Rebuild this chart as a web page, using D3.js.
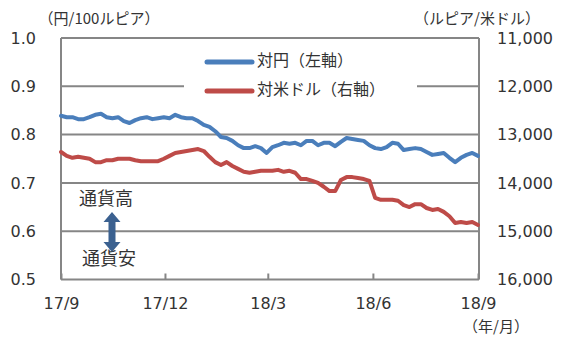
<!DOCTYPE html>
<html><head><meta charset="utf-8">
<script src="https://cdn.jsdelivr.net/npm/d3@7"></script>
<style>
html,body{margin:0;padding:0;background:#fff;}
svg{display:block;}
text{font-family:"DejaVu Sans",sans-serif;fill:#333;}
.jp{font-family:"Noto Sans CJK JP","Noto Sans",sans-serif;}
</style></head>
<body>
<svg id="chart" width="568" height="342"></svg>
<script>
const dates = ["2017-09-01","2017-09-06","2017-09-11","2017-09-16","2017-09-21","2017-09-26","2017-10-01","2017-10-06","2017-10-11","2017-10-16",
"2017-10-21","2017-10-26","2017-10-31","2017-11-05","2017-11-10","2017-11-15","2017-11-20","2017-11-25","2017-11-30","2017-12-05",
"2017-12-10","2017-12-15","2017-12-20","2017-12-25","2017-12-30","2018-01-04","2018-01-09","2018-01-14","2018-01-19","2018-01-24",
"2018-01-29","2018-02-03","2018-02-08","2018-02-13","2018-02-18","2018-02-23","2018-02-28","2018-03-05","2018-03-10","2018-03-15",
"2018-03-20","2018-03-25","2018-03-30","2018-04-04","2018-04-09","2018-04-14","2018-04-19","2018-04-24","2018-04-29","2018-05-04",
"2018-05-09","2018-05-14","2018-05-19","2018-05-24","2018-05-29","2018-06-03","2018-06-08","2018-06-13","2018-06-18","2018-06-23",
"2018-06-28","2018-07-03","2018-07-08","2018-07-13","2018-07-18","2018-07-23","2018-07-28","2018-08-02","2018-08-07","2018-08-12",
"2018-08-17","2018-08-22","2018-08-27","2018-09-01"];

const yenValues = [0.839,0.836,0.836,0.832,0.832,0.836,0.841,0.843,0.836,0.834,
0.836,0.828,0.824,0.830,0.834,0.836,0.832,0.834,0.836,0.834,
0.841,0.836,0.834,0.834,0.828,0.820,0.816,0.807,0.795,0.793,
0.787,0.778,0.772,0.772,0.776,0.772,0.762,0.774,0.778,0.783,
0.781,0.783,0.778,0.787,0.787,0.778,0.783,0.783,0.776,0.785,
0.793,0.791,0.789,0.787,0.778,0.772,0.770,0.774,0.783,0.781,
0.768,0.770,0.772,0.770,0.764,0.758,0.760,0.762,0.752,0.743,
0.752,0.758,0.762,0.756];

const usdValues = [13360,13440,13480,13460,13480,13500,13570,13570,13530,13530,
13500,13500,13500,13530,13550,13550,13550,13550,13500,13440,
13380,13360,13340,13320,13300,13340,13460,13570,13630,13570,
13650,13710,13770,13790,13770,13750,13750,13750,13730,13770,
13750,13790,13920,13920,13960,14000,14080,14170,14170,13940,
13880,13880,13900,13920,13960,14310,14350,14350,14350,14370,
14460,14500,14440,14440,14520,14560,14540,14600,14690,14830,
14810,14830,14810,14870];

const leftTicks = [0.5,0.6,0.7,0.8,0.9,1.0];
const rightTicks = [11000,12000,13000,14000,15000,16000];
const xTickDates = ["2017-09-01","2017-12-01","2018-03-01","2018-06-01","2018-09-01"];
const xTickLabels = ["17/9","17/12","18/3","18/6","18/9"];
const seriesNames = ["対円（左軸）","対米ドル（右軸）"];
const leftTitle = "（円/100ルピア）";
const rightTitle = "（ルピア/米ドル）";
const unitLabel = "（年/月）";
const upLabel = "通貨高";
const downLabel = "通貨安";

const parse = d3.timeParse("%Y-%m-%d");
const svg = d3.select("#chart");
const L = 61, R = 479, T = 38, B = 279.5;
const gridColor = "#868686";
const blue = "#4A7EBB", red = "#BE4B48";

const x = d3.scaleTime().domain([parse("2017-09-01"), parse("2018-09-01")]).range([L, R - 1]);
const yL = d3.scaleLinear().domain([0.5, 1.0]).range([B, T]);
const yR = d3.scaleLinear().domain([16000, 11000]).range([B, T]);

// gridlines
svg.append("g").selectAll("line").data(leftTicks).join("line")
  .attr("x1", L).attr("x2", R).attr("y1", d => yL(d)).attr("y2", d => yL(d))
  .attr("stroke", gridColor).attr("stroke-width", 2);

// frame verticals
svg.append("line").attr("x1", L).attr("x2", L).attr("y1", T).attr("y2", B).attr("stroke", gridColor).attr("stroke-width", 2);
svg.append("line").attr("x1", R).attr("x2", R).attr("y1", T).attr("y2", B).attr("stroke", gridColor).attr("stroke-width", 2);

// bottom axis with inward ticks
const xAxis = d3.axisBottom(x)
  .tickValues(xTickDates.map(parse))
  .tickSizeInner(-6).tickSizeOuter(0).tickPadding(18)
  .tickFormat((d, i) => xTickLabels[i]);
const gx = svg.append("g").attr("transform", `translate(0,${B})`).call(xAxis);
gx.select(".domain").remove();
gx.selectAll(".tick line").attr("stroke", gridColor).attr("stroke-width", 2);
gx.selectAll(".tick text").attr("font-size", 16).attr("fill", "#333").attr("font-family", "DejaVu Sans");

// left axis
const yAxisL = d3.axisLeft(yL).tickValues(leftTicks).tickSize(0).tickPadding(25).tickFormat(d3.format(".1f"));
const gl = svg.append("g").attr("transform", `translate(${L},0)`).call(yAxisL);
gl.select(".domain").remove();
gl.selectAll(".tick text").attr("font-size", 16).attr("fill", "#333").attr("font-family", "DejaVu Sans");

// right axis
const yAxisR = d3.axisRight(yR).tickValues(rightTicks).tickSize(0).tickPadding(18).tickFormat(d3.format(","));
const gr = svg.append("g").attr("transform", `translate(${R},0)`).call(yAxisR);
gr.select(".domain").remove();
gr.selectAll(".tick text").attr("font-size", 16).attr("fill", "#333").attr("font-family", "DejaVu Sans");

// axis titles
svg.append("text").attr("class", "jp").attr("x", 99).attr("y", 20).attr("text-anchor", "middle")
  .attr("dominant-baseline", "middle").attr("font-size", 15).text(leftTitle);
svg.append("text").attr("class", "jp").attr("x", 477).attr("y", 20).attr("text-anchor", "middle")
  .attr("dominant-baseline", "middle").attr("font-size", 15).text(rightTitle);
svg.append("text").attr("class", "jp").attr("x", 496).attr("y", 328).attr("text-anchor", "middle")
  .attr("dominant-baseline", "middle").attr("font-size", 15).text(unitLabel);

// legend background
svg.append("rect").attr("x", 184).attr("y", 46).attr("width", 233).attr("height", 58).attr("fill", "#fff");

// series
const pts = dates.map(parse);
const lineL = d3.line().x((d, i) => x(pts[i])).y(d => yL(d));
const lineR = d3.line().x((d, i) => x(pts[i])).y(d => yR(d));
svg.append("path").datum(usdValues).attr("d", lineR).attr("fill", "none")
  .attr("stroke", red).attr("stroke-width", 4).attr("stroke-linejoin", "round").attr("stroke-linecap", "round");
svg.append("path").datum(yenValues).attr("d", lineL).attr("fill", "none")
  .attr("stroke", blue).attr("stroke-width", 4).attr("stroke-linejoin", "round").attr("stroke-linecap", "round");

// legend
const legend = svg.append("g");
[blue, red].forEach((c, i) => {
  const ly = 62 + i * 29;
  legend.append("line").attr("x1", 207).attr("x2", 252).attr("y1", ly).attr("y2", ly)
    .attr("stroke", c).attr("stroke-width", 5).attr("stroke-linecap", "round");
  legend.append("text").attr("class", "jp").attr("x", 257).attr("y", ly).attr("dominant-baseline", "middle")
    .attr("font-size", 16).text(seriesNames[i]);
});

// currency strength annotation
svg.append("text").attr("class", "jp").attr("x", 106).attr("y", 200).attr("text-anchor", "middle")
  .attr("dominant-baseline", "middle").attr("font-size", 18).text(upLabel);
svg.append("text").attr("class", "jp").attr("x", 109).attr("y", 260).attr("text-anchor", "middle")
  .attr("dominant-baseline", "middle").attr("font-size", 18).text(downLabel);
const ax = 112, aTop = 212, aBot = 252, hw = 8.5, hh = 10, sw = 3.5;
const arrowPts = [[ax, aTop],[ax + hw, aTop + hh],[ax + sw, aTop + hh],[ax + sw, aBot - hh],[ax + hw, aBot - hh],
  [ax, aBot],[ax - hw, aBot - hh],[ax - sw, aBot - hh],[ax - sw, aTop + hh],[ax - hw, aTop + hh]];
svg.append("path").attr("d", d3.line()(arrowPts) + "Z").attr("fill", "#3B6190");
</script>
</body></html>
